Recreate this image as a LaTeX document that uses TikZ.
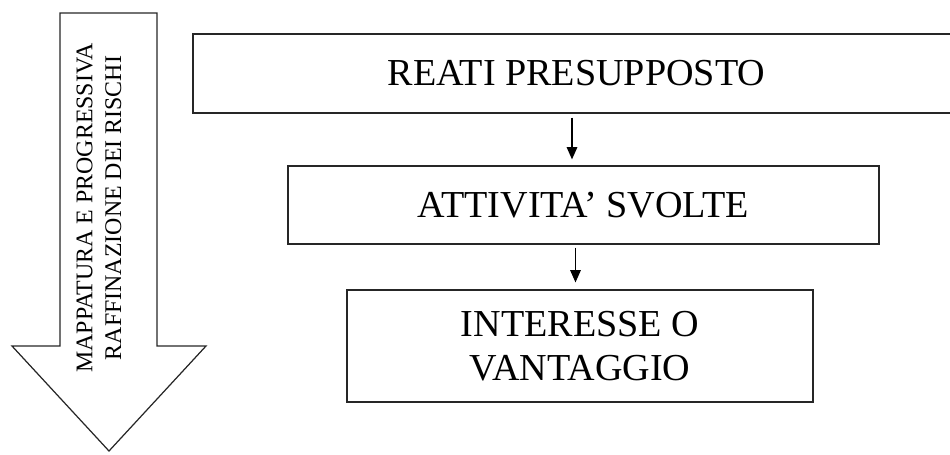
\documentclass[tikz,border=0pt]{standalone}
\usepackage{fontspec}
\setmainfont{Liberation Serif}
\usetikzlibrary{arrows.meta}

\tikzset{
	box/.style={draw=black!85, line width=0.7pt, align=center, font=\fontsize{21.7}{24.8}\selectfont},
	flow/.style={line width=0.8pt, -{Triangle[length=7pt, width=6pt]}}
}

\begin{document}
\begin{tikzpicture}[x=0.02cm, y=-0.02cm]
		\useasboundingbox (0, 0) rectangle (950, 454);
		\clip (0, 0) rectangle (950, 454);

		\draw[draw=black!85, line width=0.7pt] (60, 13) -- (157, 13) -- (157, 346) -- (206, 346) -- (109, 451) -- (12, 346) -- (60, 346) -- cycle;
		\node[rotate=90, align=center, font=\fontsize{13.6}{16.4}\selectfont] (mappatura) at (99, 208) {MAPPATURA E PROGRESSIVA\\RAFFINAZIONE DEI RISCHI};

		\node[box, minimum width=15.34cm, minimum height=1.58cm] (reati) at (576.5, 73.5) {REATI PRESUPPOSTO};
		\node[box, minimum width=11.82cm, minimum height=1.56cm] (attivita) at (583.5, 205) {ATTIVITA’ SVOLTE};
		\node[box, minimum width=9.32cm, minimum height=2.24cm] (interesse) at (580, 346) {INTERESSE O\\VANTAGGIO};

		\draw[flow, shorten <=0.08cm, shorten >=0.12cm] ([xshift=-0.09cm]reati.south) -- ([xshift=-0.09cm]reati.south |- attivita.north);
		\draw[flow, shorten <=0.06cm, shorten >=0.14cm] ([xshift=-0.16cm]attivita.south) -- ([xshift=-0.16cm]attivita.south |- interesse.north);
	\end{tikzpicture}
\end{document}
